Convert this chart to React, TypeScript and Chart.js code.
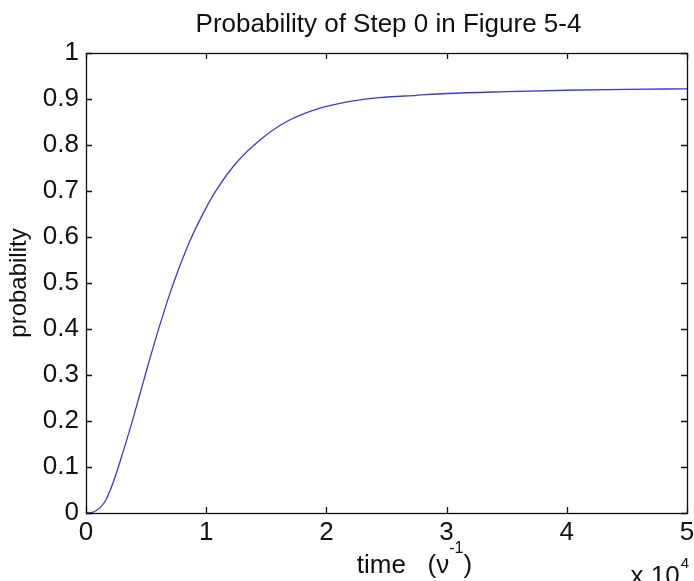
import React, { useEffect, useRef } from "react";
import { Chart, registerables } from "chart.js";

Chart.register(...registerables);

const titleText = "Probability of Step 0 in Figure 5-4";
const yAxisLabel = "probability";
const xAxisLabelMain = "time   (ν";
const xAxisLabelSup = "-1";
const xAxisLabelEnd = ")";
const xExponentBase = "x 10";
const xExponentSup = "4";

// time in units of 10^4 (1/ν)
const timeValues = [
  0, 0.06, 0.158, 0.227, 0.311, 0.394, 0.463, 0.532, 0.616, 0.699, 0.782, 0.865,
  0.976, 1.087, 1.253, 1.448, 1.67, 1.947, 2.224, 2.446, 2.75, 3.0, 3.5, 4.0, 4.5, 5.0,
];
const probabilityValues = [
  0, 0.002, 0.025, 0.067, 0.135, 0.208, 0.272, 0.336, 0.41, 0.478, 0.538, 0.592,
  0.652, 0.703, 0.762, 0.811, 0.851, 0.88, 0.896, 0.903, 0.908, 0.912, 0.916, 0.919, 0.921, 0.922,
];

const FONT = "'Liberation Sans', Arial, Helvetica, sans-serif";

const boxPlugin = {
  id: "matlabBox",
  afterDraw(chart: any) {
    const { ctx, chartArea } = chart;
    const { left, right, top, bottom } = chartArea;
    const xs = chart.scales.x;
    const ys = chart.scales.y;
    ctx.save();
    ctx.strokeStyle = "#111";
    ctx.lineWidth = 1.3;
    ctx.strokeRect(left + 0.5, top + 0.5, right - left, bottom - top);
    const tl = 6;
    ctx.beginPath();
    xs.ticks.forEach((t: any) => {
      const px = Math.round(xs.getPixelForValue(t.value)) + 0.5;
      ctx.moveTo(px, bottom);
      ctx.lineTo(px, bottom - tl);
      ctx.moveTo(px, top);
      ctx.lineTo(px, top + tl);
    });
    ys.ticks.forEach((t: any) => {
      const py = Math.round(ys.getPixelForValue(t.value)) + 0.5;
      ctx.moveTo(left, py);
      ctx.lineTo(left + tl, py);
      ctx.moveTo(right, py);
      ctx.lineTo(right - tl, py);
    });
    ctx.stroke();

    ctx.fillStyle = "#111";
    const mainFont = `26px ${FONT}`;
    const supFont = `16px ${FONT}`;

    // chart title
    ctx.font = mainFont;
    ctx.textAlign = "center";
    ctx.textBaseline = "alphabetic";
    ctx.fillText(titleText, (left + right) / 2 + 2, top - 21);

    // x axis title with superscript
    ctx.textAlign = "left";
    ctx.font = mainFont;
    const w1 = ctx.measureText(xAxisLabelMain).width;
    ctx.font = supFont;
    const w2 = ctx.measureText(xAxisLabelSup).width;
    ctx.font = mainFont;
    const w3 = ctx.measureText(xAxisLabelEnd).width;
    const total = w1 + w2 + w3;
    const cx = (left + right) / 2 + 28;
    const baseY = bottom + 60;
    const x0 = cx - total / 2;
    ctx.font = mainFont;
    ctx.fillText(xAxisLabelMain, x0, baseY);
    ctx.font = supFont;
    ctx.fillText(xAxisLabelSup, x0 + w1, baseY - 20);
    ctx.font = mainFont;
    ctx.fillText(xAxisLabelEnd, x0 + w1 + w2, baseY);

    // exponent label
    ctx.font = mainFont;
    const e1 = ctx.measureText(xExponentBase).width;
    ctx.font = `15px ${FONT}`;
    const e2 = ctx.measureText(xExponentSup).width;
    const ex = right - 1 - (e1 + e2) + 2;
    ctx.font = mainFont;
    ctx.fillText(xExponentBase, ex, bottom + 71);
    ctx.font = `15px ${FONT}`;
    ctx.fillText(xExponentSup, ex + e1 + 1, bottom + 55);
    ctx.restore();
  },
};

export default function App() {
  const canvasRef = useRef<HTMLCanvasElement | null>(null);

  useEffect(() => {
    if (!canvasRef.current) return;
    const points = timeValues.map((t, i) => ({ x: t, y: probabilityValues[i] }));
    const chart = new Chart(canvasRef.current, {
      type: "line",
      data: {
        datasets: [
          {
            data: points,
            borderColor: "#3c3ccc",
            borderWidth: 1.3,
            pointRadius: 0,
            fill: false,
            cubicInterpolationMode: "monotone",
          },
        ],
      },
      options: {
        responsive: false,
        animation: false,
        devicePixelRatio: 1,
        layout: { padding: { left: 0, right: 7, top: 53, bottom: 0 } },
        plugins: {
          legend: { display: false },
          tooltip: { enabled: false },
          title: { display: false },
        },
        scales: {
          x: {
            type: "linear",
            min: 0,
            max: 5,
            grid: { display: false, drawTicks: false },
            border: { display: false },
            ticks: {
              stepSize: 1,
              padding: 4,
              color: "#111",
              font: { family: FONT, size: 26, lineHeight: 1.2 },
              maxRotation: 0,
              callback: (v: any) => String(Math.round(Number(v))),
            },
            afterFit: (s: any) => {
              s.height = 68;
              s.paddingLeft = 0;
              s.paddingRight = 0;
            },
          },
          y: {
            type: "linear",
            min: 0,
            max: 1,
            grid: { display: false, drawTicks: false },
            border: { display: false },
            ticks: {
              stepSize: 0.1,
              padding: 7,
              color: "#111",
              font: { family: FONT, size: 26, lineHeight: 1.2 },
              callback: (v: any) => String(Number(Number(v).toFixed(1))),
            },
            title: {
              display: true,
              text: yAxisLabel,
              color: "#111",
              font: { family: FONT, size: 24, lineHeight: 1.2 },
              padding: { top: 5, bottom: 0 },
            },
            afterFit: (s: any) => {
              s.width = 86;
              s.paddingTop = 0;
              s.paddingBottom = 0;
            },
          },
        },
      },
      plugins: [boxPlugin],
    });
    return () => chart.destroy();
  }, []);

  return (
    <div style={{ position: "absolute", left: 0, top: 0, width: 694, height: 581, background: "#fff" }}>
      <canvas ref={canvasRef} width={694} height={581} style={{ width: 694, height: 581, display: "block" }} />
    </div>
  );
}
